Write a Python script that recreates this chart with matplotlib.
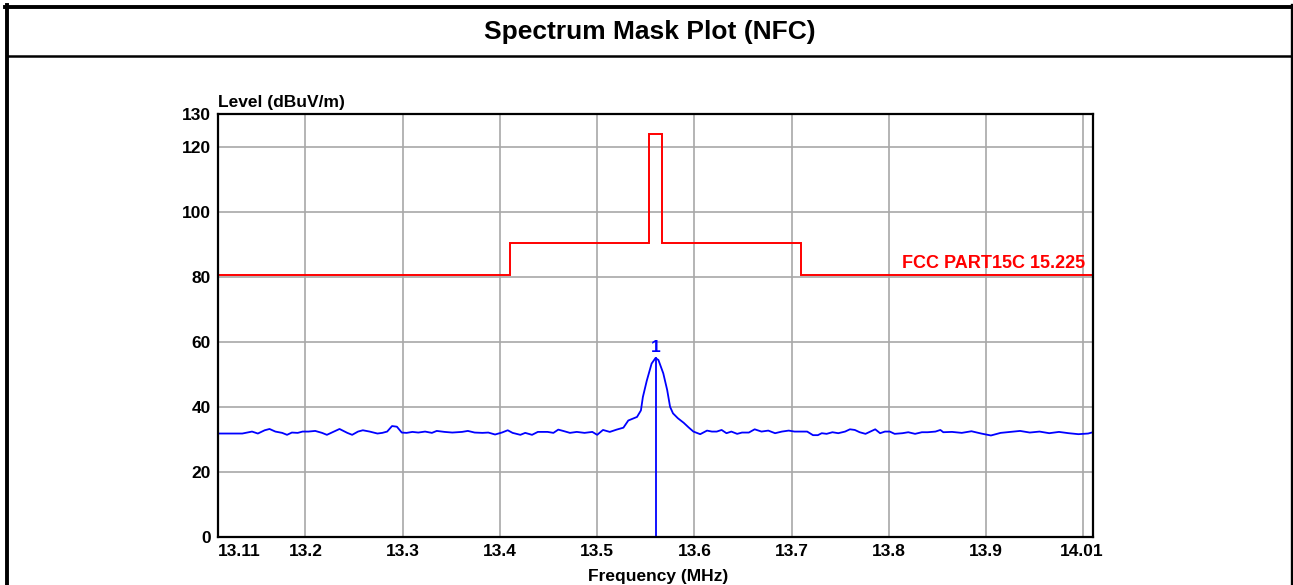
import matplotlib
matplotlib.use("Agg")
from matplotlib import pyplot as plt
from matplotlib.lines import Line2D
import matplotlib.transforms as mtransforms

plt.rcParams['font.family'] = ['Liberation Sans', 'DejaVu Sans']

# limit mask FCC 15.225 (edges in MHz, level in dBuV/m)
mask_edges = [13.11, 13.41, 13.553, 13.567, 13.71, 14.01]
mask_level = [80.5, 90.5, 124.0, 90.5, 80.5]

# measured trace
freq = [13.110, 13.122, 13.135, 13.140, 13.145, 13.151, 13.158, 13.163, 13.169, 13.176,
        13.181, 13.186, 13.192, 13.197, 13.203, 13.210, 13.217, 13.222, 13.227, 13.235,
        13.243, 13.248, 13.254, 13.259, 13.266, 13.274, 13.279, 13.284, 13.289, 13.294,
        13.299, 13.304, 13.310, 13.316, 13.323, 13.330, 13.335, 13.343, 13.351, 13.361,
        13.367, 13.374, 13.382, 13.388, 13.395, 13.402, 13.408, 13.413, 13.421, 13.426,
        13.433, 13.439, 13.449, 13.455, 13.460, 13.465, 13.472, 13.479, 13.487, 13.495,
        13.500, 13.506, 13.513, 13.520, 13.527, 13.532, 13.541, 13.545, 13.547, 13.551,
        13.556, 13.560, 13.563, 13.568, 13.572, 13.575, 13.578, 13.583, 13.589, 13.594,
        13.599, 13.606, 13.613, 13.618, 13.623, 13.628, 13.633, 13.638, 13.644, 13.649,
        13.656, 13.662, 13.669, 13.676, 13.683, 13.690, 13.697, 13.703, 13.716, 13.722,
        13.727, 13.731, 13.736, 13.742, 13.748, 13.755, 13.760, 13.765, 13.770, 13.776,
        13.781, 13.786, 13.791, 13.796, 13.801, 13.806, 13.814, 13.820, 13.827, 13.834,
        13.840, 13.848, 13.853, 13.856, 13.865, 13.875, 13.885, 13.895, 13.905, 13.915,
        13.925, 13.935, 13.945, 13.955, 13.965, 13.975, 13.985, 13.995, 14.005, 14.010]
level = [31.8, 31.8, 31.8, 32.1, 32.4, 31.8, 32.8, 33.2, 32.4, 32.0,
         31.4, 32.1, 32.0, 32.4, 32.4, 32.6, 32.0, 31.4, 32.1, 33.2,
         32.0, 31.4, 32.4, 32.8, 32.4, 31.8, 32.0, 32.4, 34.1, 33.9,
         32.1, 32.0, 32.3, 32.1, 32.4, 32.0, 32.6, 32.3, 32.1, 32.3,
         32.6, 32.1, 32.0, 32.1, 31.5, 32.1, 32.8, 32.0, 31.4, 32.0,
         31.4, 32.3, 32.3, 32.0, 33.0, 32.6, 32.0, 32.3, 32.0, 32.3,
         31.4, 32.9, 32.3, 33.0, 33.6, 35.8, 36.9, 38.9, 43.0, 48.0,
         53.3, 55.0, 54.4, 50.3, 45.2, 40.0, 38.0, 36.5, 35.1, 33.7,
         32.4, 31.6, 32.7, 32.4, 32.4, 32.9, 31.9, 32.4, 31.7, 32.1,
         32.1, 33.1, 32.4, 32.7, 31.9, 32.4, 32.7, 32.4, 32.4, 31.3,
         31.3, 31.9, 31.7, 32.2, 31.9, 32.4, 33.1, 32.9, 32.2, 31.7,
         32.4, 33.1, 31.9, 32.4, 32.4, 31.7, 31.9, 32.2, 31.7, 32.2,
         32.2, 32.4, 32.9, 32.2, 32.3, 32.0, 32.5, 31.8, 31.2, 32.0,
         32.3, 32.6, 32.1, 32.4, 31.9, 32.3, 31.9, 31.6, 31.8, 32.2]

marker_freq = 13.56
marker_level = 55.0

xticks = [13.11, 13.2, 13.3, 13.4, 13.5, 13.6, 13.7, 13.8, 13.9, 14.01]
xticklabels = ["13.11", "13.2", "13.3", "13.4", "13.5", "13.6", "13.7", "13.8", "13.9", "14.01"]
xgrid = [13.2, 13.3, 13.4, 13.5, 13.6, 13.7, 13.8, 13.9, 14.0]
yticks = [0, 20, 40, 60, 80, 100, 120, 130]

W, H = 1293, 585
fig = plt.figure(figsize=(W / 100, H / 100), dpi=100)
ax = fig.add_axes([218 / W, (H - 537) / H, (1093 - 218) / W, (537 - 114) / H])

for g in xgrid:
    ax.axvline(g, color="#a8a8a8", lw=1.2, zorder=0)
for g in yticks[1:-1]:
    ax.axhline(g, color="#a8a8a8", lw=1.2, zorder=0)

ax.stairs(mask_level, mask_edges, baseline=None, color="#ff0000", lw=1.4)
ax.plot(freq, level, color="#0000ff", lw=1.3)
ax.plot([marker_freq, marker_freq], [0, marker_level], color="#0000ff", lw=1.3)
ax.annotate("1", (marker_freq, marker_level), xytext=(0, 2), textcoords="offset points",
            ha="center", va="bottom", color="#0000ff", fontsize=12.5, fontweight="bold")
ax.text(14.002, 81.5, "FCC PART15C 15.225", color="#ff0000", fontsize=13,
        fontweight="bold", ha="right", va="bottom")

ax.set_xlim(13.11, 14.01)
ax.set_ylim(0, 130)
ax.set_xticks(xticks)
ax.set_xticklabels(xticklabels)
ax.set_yticks(yticks)
ax.tick_params(length=0, labelsize=12.5, pad=5)
for lab in ax.get_xticklabels() + ax.get_yticklabels():
    lab.set_fontweight("bold")
xl = ax.get_xticklabels()
xl[0].set_horizontalalignment("left")
xl[-1].set_transform(xl[-1].get_transform() +
                     mtransforms.ScaledTranslation(-11 / 100, 0, fig.dpi_scale_trans))
for s in ax.spines.values():
    s.set_linewidth(1.6)
    s.set_color("black")

ax.annotate("Level (dBuV/m)", (0, 1), xycoords="axes fraction", xytext=(0, 3),
            textcoords="offset points", ha="left", va="bottom", fontsize=12.5,
            fontweight="bold")
fig.text(658 / W, (H - 576) / H, "Frequency (MHz)", ha="center", va="center",
         fontsize=12.5, fontweight="bold")

# table frame around the chart
fig.text(650 / W, (H - 32) / H, "Spectrum Mask Plot (NFC)", ha="center", va="center",
         fontsize=19, fontweight="bold")
fr = fig.transFigure
fig.add_artist(Line2D([7 / W, 7 / W], [0, (H - 5) / H], color="black", lw=2.8, transform=fr))
fig.add_artist(Line2D([1291.5 / W, 1291.5 / W], [0, (H - 5) / H], color="black", lw=2.4, transform=fr))
fig.add_artist(Line2D([5 / W, 1293 / W], [(H - 7) / H, (H - 7) / H], color="black", lw=2.8, transform=fr))
fig.add_artist(Line2D([7 / W, 1291 / W], [(H - 56) / H, (H - 56) / H], color="black", lw=1.8, transform=fr))

fig.savefig("out.png", dpi=100)
